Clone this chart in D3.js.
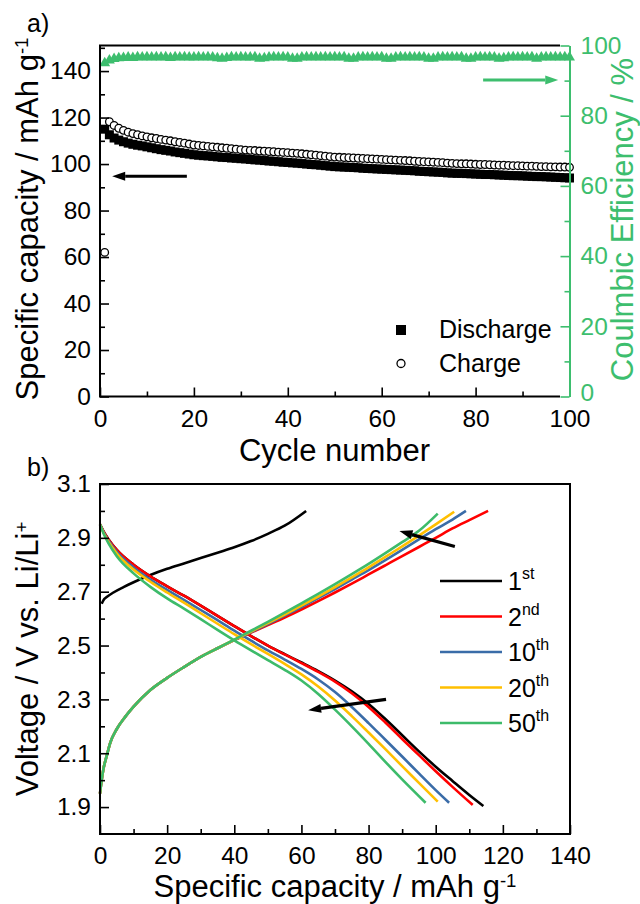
<!DOCTYPE html>
<html>
<head>
<meta charset="utf-8">
<script src="https://cdn.jsdelivr.net/npm/d3@7"></script>
<style>
  body { margin: 0; background: #fff; }
  svg { display: block; font-family: Arial, "Liberation Sans", sans-serif; }
</style>
</head>
<body>
<script>
// ---------- panel a data: cycling (cycle 1..100) ----------
const cycles = d3.range(1, 101);
const dischargeCap = [
  115.0, 112.6, 111.2, 110.3, 109.6, 109.0, 108.5, 108.1, 107.8, 107.4,
  107.0, 106.6, 106.2, 105.9, 105.6, 105.2, 104.9, 104.6, 104.3, 104.0,
  103.8, 103.6, 103.5, 103.3, 103.1, 102.9, 102.8, 102.6, 102.5, 102.3,
  102.2, 102.0, 101.8, 101.7, 101.5, 101.3, 101.2, 101.0, 100.8, 100.7,
  100.5, 100.4, 100.2, 100.0, 99.8, 99.7, 99.5, 99.3, 99.1, 98.9,
  98.8, 98.7, 98.6, 98.5, 98.4, 98.2, 98.1, 98.0, 97.9, 97.8,
  97.7, 97.6, 97.5, 97.4, 97.3, 97.2, 97.1, 96.9, 96.8, 96.7,
  96.6, 96.5, 96.4, 96.2, 96.1, 96.0, 96.0, 95.9, 95.8, 95.7,
  95.6, 95.5, 95.5, 95.4, 95.3, 95.2, 95.1, 95.0, 95.0, 94.9,
  94.8, 94.7, 94.6, 94.6, 94.5, 94.4, 94.3, 94.2, 94.1, 94.0
];
const chargeCap = [
  62.0, 118.2, 116.6, 115.4, 114.5, 113.7, 113.1, 112.6, 112.1, 111.7,
  111.3, 111.0, 110.6, 110.3, 110.0, 109.6, 109.3, 109.0, 108.6, 108.2,
  108.0, 107.8, 107.6, 107.4, 107.2, 107.0, 106.8, 106.6, 106.4, 106.2,
  106.0, 105.9, 105.8, 105.6, 105.5, 105.4, 105.3, 105.1, 105.0, 104.9,
  104.7, 104.6, 104.4, 104.2, 104.0, 103.8, 103.6, 103.4, 103.2, 103.0,
  102.9, 102.8, 102.7, 102.6, 102.5, 102.4, 102.3, 102.2, 102.1, 102.0,
  101.9, 101.8, 101.7, 101.6, 101.5, 101.4, 101.2, 101.1, 101.0, 100.9,
  100.8, 100.7, 100.6, 100.4, 100.3, 100.2, 100.1, 100.1, 100.0, 99.9,
  99.8, 99.8, 99.7, 99.6, 99.5, 99.5, 99.4, 99.3, 99.3, 99.2,
  99.1, 99.1, 99.0, 98.9, 98.9, 98.8, 98.8, 98.7, 98.7, 98.6
];
const coulombicEff = [
  95.0, 95.8, 96.2, 96.4, 96.5, 96.6, 96.5, 96.7, 96.6, 96.7,
  96.6, 96.7, 96.6, 96.7, 96.5, 96.7, 96.6, 96.7, 96.6, 96.6,
  96.7, 96.6, 96.7, 96.6, 96.4, 96.3, 96.5, 96.7, 96.6, 96.7,
  96.6, 96.6, 96.7, 96.3, 96.4, 96.6, 96.7, 96.6, 96.7, 96.6,
  96.3, 96.3, 96.6, 96.7, 96.6, 96.7, 96.6, 96.7, 96.6, 96.7,
  96.6, 96.7, 96.3, 96.3, 96.6, 96.7, 96.6, 96.7, 96.6, 96.7,
  96.3, 96.3, 96.6, 96.7, 96.6, 96.7, 96.6, 96.7, 96.6, 96.3,
  96.3, 96.6, 96.7, 96.6, 96.7, 96.6, 96.7, 96.3, 96.3, 96.6,
  96.7, 96.6, 96.7, 96.6, 96.3, 96.4, 96.6, 96.7, 96.6, 96.7,
  96.6, 96.7, 96.3, 96.6, 96.7, 96.6, 96.7, 96.6, 96.7, 96.6
];
const cycleTicks = [0, 20, 40, 60, 80, 100];
const capTicksA = [0, 20, 40, 60, 80, 100, 120, 140];
const ceTicks = [0, 20, 40, 60, 80, 100];

// ---------- panel b data: voltage profiles [capacity, voltage] ----------
const curveLabels = ["1", "2", "10", "20", "50"];
const curveSuffix = ["st", "nd", "th", "th", "th"];
const curveColors = ["#000000", "#ff0000", "#3a6ca8", "#ffbf00", "#3dbb6a"];

const dis1 = [[0,2.95],[1,2.925],[2.5,2.895],[5,2.855],[10,2.8],[15,2.757],[20,2.72],[25,2.685],[30,2.648],[35,2.61],[40,2.572],[45,2.535],[50,2.5],[55,2.468],[60,2.437],[65,2.405],[70,2.37],[75,2.33],[80,2.283],[85,2.227],[90,2.167],[95,2.107],[100,2.05],[105,1.997],[110,1.945],[114.2,1.904]];
const dis2 = [[0,2.95],[1,2.925],[2.5,2.895],[5,2.855],[10,2.8],[15,2.757],[20,2.72],[25,2.685],[30,2.648],[35,2.61],[40,2.572],[45,2.535],[50,2.5],[55,2.467],[60,2.435],[65,2.402],[70,2.366],[75,2.323],[80,2.272],[85,2.214],[90,2.153],[95,2.093],[100,2.033],[105,1.975],[111,1.908]];
const dis10 = [[0,2.95],[1,2.922],[2.5,2.89],[5,2.848],[10,2.79],[15,2.745],[20,2.707],[25,2.67],[30,2.632],[35,2.594],[40,2.555],[45,2.518],[50,2.482],[55,2.448],[60,2.413],[65,2.374],[70,2.327],[75,2.272],[80,2.212],[85,2.15],[90,2.088],[95,2.025],[100,1.963],[104,1.916]];
const dis20 = [[0,2.95],[1,2.92],[2.5,2.886],[5,2.842],[10,2.782],[15,2.737],[20,2.697],[25,2.659],[30,2.62],[35,2.581],[40,2.542],[45,2.505],[50,2.469],[55,2.432],[60,2.393],[65,2.348],[70,2.296],[75,2.238],[80,2.177],[85,2.115],[90,2.052],[95,1.99],[100.6,1.92]];
const dis50 = [[0,2.95],[1,2.918],[2.5,2.88],[5,2.832],[10,2.768],[15,2.718],[20,2.675],[25,2.637],[30,2.598],[35,2.558],[40,2.519],[45,2.482],[50,2.446],[55,2.41],[60,2.37],[65,2.32],[70,2.262],[75,2.2],[80,2.135],[85,2.068],[90,2.003],[97,1.916]];

const chg1 = [[0.5,2.655],[1,2.668],[2,2.68],[4,2.697],[7,2.717],[10,2.735],[15,2.762],[20,2.785],[25,2.805],[30,2.825],[35,2.845],[40,2.865],[45,2.888],[50,2.915],[55,2.945],[61.4,3.0]];
const chg2 = [[0,1.95],[0.5,2.0],[1,2.04],[2,2.09],[3,2.137],[5,2.19],[7.5,2.235],[10,2.273],[15,2.335],[20,2.38],[25,2.42],[30,2.458],[35,2.49],[40,2.52],[45,2.548],[50,2.576],[55,2.604],[60,2.634],[65,2.665],[70,2.697],[75,2.73],[80,2.764],[85,2.798],[90,2.832],[95,2.866],[100,2.9],[105,2.935],[110,2.966],[115.6,3.0]];
const chg10 = [[0,1.95],[0.5,2.0],[1,2.04],[2,2.09],[3,2.137],[5,2.19],[7.5,2.235],[10,2.273],[15,2.335],[20,2.38],[25,2.42],[30,2.458],[35,2.49],[40,2.52],[45,2.55],[50,2.58],[55,2.611],[60,2.643],[65,2.676],[70,2.71],[75,2.745],[80,2.78],[85,2.817],[90,2.855],[95,2.894],[100,2.932],[105,2.968],[109,3.0]];
const chg20 = [[0,1.95],[0.5,2.0],[1,2.04],[2,2.09],[3,2.137],[5,2.19],[7.5,2.235],[10,2.273],[15,2.335],[20,2.38],[25,2.42],[30,2.458],[35,2.49],[40,2.521],[45,2.552],[50,2.583],[55,2.615],[60,2.648],[65,2.682],[70,2.717],[75,2.753],[80,2.79],[85,2.829],[90,2.868],[95,2.908],[100,2.95],[105.5,2.997]];
const chg50 = [[0,1.95],[0.5,2.0],[1,2.04],[2,2.09],[3,2.137],[5,2.19],[7.5,2.235],[10,2.273],[15,2.335],[20,2.38],[25,2.42],[30,2.458],[35,2.49],[40,2.522],[45,2.555],[50,2.588],[55,2.622],[60,2.657],[65,2.692],[70,2.728],[75,2.765],[80,2.803],[85,2.843],[90,2.884],[95,2.926],[100.6,2.99]];

const dischargeCurves = [dis1, dis2, dis10, dis20, dis50];
const chargeCurves = [chg1, chg2, chg10, chg20, chg50];
const capTicksB = [0, 20, 40, 60, 80, 100, 120, 140];
const voltTicks = [1.9, 2.1, 2.3, 2.5, 2.7, 2.9, 3.1];

// --- SVG Setup ---
const width = 640, height = 904;
const green = "#3dbe6e";
const tickFont = 24.5, titleFont = 31;

const svg = d3.select("body").append("svg")
    .attr("width", width)
    .attr("height", height);

// little helper for styled axes
function styleAxis(g, color) {
    g.attr("font-size", tickFont).attr("font-family", null);
    g.selectAll(".tick line").attr("stroke", color).attr("stroke-width", 1.6);
    g.selectAll(".tick text").attr("fill", color);
}

function drawArrow(g, x1, y1, x2, y2, color, w) {
    const ang = Math.atan2(y2 - y1, x2 - x1);
    const len = 13, half = 4.5;
    const bx = x2 - len * Math.cos(ang), by = y2 - len * Math.sin(ang);
    g.append("line")
        .attr("x1", x1).attr("y1", y1).attr("x2", bx).attr("y2", by)
        .attr("stroke", color).attr("stroke-width", w);
    g.append("path")
        .attr("d", `M${x2},${y2}L${bx - half * Math.sin(ang)},${by + half * Math.cos(ang)}L${bx + half * Math.sin(ang)},${by - half * Math.cos(ang)}Z`)
        .attr("fill", color);
}

// ================= Panel a =================
const xA = d3.scaleLinear().domain([0, 100]).range([100, 569.5]);
const yA = d3.scaleLinear().domain([0, 151]).range([396.5, 45.5]);
const yCE = d3.scaleLinear().domain([0, 100]).range([396.5, 45.5]);

const gA = svg.append("g");

// Coulombic efficiency triangles
gA.selectAll(".ce")
    .data(cycles)
    .enter().append("path")
    .attr("class", "ce")
    .attr("transform", (c, i) => `translate(${xA(c)},${yCE(coulombicEff[i])})`)
    .attr("d", d3.symbol(d3.symbolTriangle, 52))
    .attr("fill", green);

// Discharge squares
gA.selectAll(".dis")
    .data(cycles)
    .enter().append("rect")
    .attr("class", "dis")
    .attr("x", c => xA(c) - 4.5)
    .attr("y", (c, i) => yA(dischargeCap[i]) - 4.5)
    .attr("width", 9).attr("height", 9)
    .attr("fill", "#000");

// Charge circles
gA.selectAll(".chg")
    .data(cycles)
    .enter().append("circle")
    .attr("class", "chg")
    .attr("cx", c => xA(c))
    .attr("cy", (c, i) => yA(chargeCap[i]))
    .attr("r", 3.8)
    .attr("fill", "#fff")
    .attr("stroke", "#000")
    .attr("stroke-width", 1.3);

// Axes
gA.append("g").attr("transform", "translate(100,0)")
    .call(d3.axisLeft(yA).tickValues(capTicksA).tickSize(-9).tickPadding(9))
    .call(g => g.select(".domain").remove())
    .call(g => styleAxis(g, "#000"));
gA.append("g").attr("transform", "translate(100,0)")
    .call(d3.axisLeft(yA).tickValues([10, 30, 50, 70, 90, 110, 130, 150]).tickSize(-5).tickFormat(""))
    .call(g => g.select(".domain").remove())
    .call(g => styleAxis(g, "#000"));

gA.append("g").attr("transform", "translate(0,396.5)")
    .call(d3.axisBottom(xA).tickValues(cycleTicks).tickSize(-9).tickPadding(13.5))
    .call(g => g.select(".domain").remove())
    .call(g => styleAxis(g, "#000"));
gA.append("g").attr("transform", "translate(0,396.5)")
    .call(d3.axisBottom(xA).tickValues([10, 30, 50, 70, 90]).tickSize(-5).tickFormat(""))
    .call(g => g.select(".domain").remove())
    .call(g => styleAxis(g, "#000"));

// frame (left, top, bottom)
gA.append("path")
    .attr("d", "M560,45.5H100V396.5H560")
    .attr("fill", "none").attr("stroke", "#000").attr("stroke-width", 2);

// right green axis
gA.append("g").attr("transform", "translate(569.5,0)")
    .call(d3.axisRight(yCE).tickValues(ceTicks).tickSize(-9).tickSizeOuter(0).tickPadding(11))
    .call(g => g.select(".domain").attr("stroke", green).attr("stroke-width", 2))
    .call(g => styleAxis(g, green))
    .call(g => g.selectAll(".tick text").filter(d => d === 0).attr("dy", "0.15em"));
gA.append("g").attr("transform", "translate(569.5,0)")
    .call(d3.axisRight(yCE).tickValues([10, 30, 50, 70, 90]).tickSize(-5).tickFormat(""))
    .call(g => g.select(".domain").remove())
    .call(g => styleAxis(g, green));

// Axis titles
gA.append("text")
    .attr("x", 334.5).attr("y", 461)
    .attr("text-anchor", "middle")
    .attr("font-size", titleFont)
    .text("Cycle number");

const tA = gA.append("text")
    .attr("transform", "translate(38,219) rotate(-90)")
    .attr("text-anchor", "middle")
    .attr("font-size", titleFont);
tA.append("tspan").text("Specific capacity / mAh g");
tA.append("tspan").attr("dy", "-0.55em").attr("font-size", "0.6em").text("-1");

gA.append("text")
    .attr("transform", "translate(633,219.5) rotate(-90)")
    .attr("text-anchor", "middle")
    .attr("font-size", titleFont)
    .attr("fill", green)
    .text("Coulmbic Efficiency / %");

gA.append("text").attr("x", 27).attr("y", 32).attr("font-size", 25).text("a)");

// legend
gA.append("rect").attr("x", 396).attr("y", 325).attr("width", 10).attr("height", 10).attr("fill", "#000");
gA.append("text").attr("x", 439).attr("y", 338).attr("font-size", 25).text("Discharge");
gA.append("circle").attr("cx", 401).attr("cy", 363.5).attr("r", 4)
    .attr("fill", "#fff").attr("stroke", "#000").attr("stroke-width", 1.3);
gA.append("text").attr("x", 439).attr("y", 372).attr("font-size", 25).text("Charge");

// arrows
drawArrow(gA, xA(18.5), yA(94.8), xA(2.6), yA(94.8), "#000", 3);
drawArrow(gA, xA(81.6), yCE(90.2), xA(97.6), yCE(90.2), green, 3);

// ================= Panel b =================
const xB = d3.scaleLinear().domain([0, 140]).range([100, 570]);
const yB = d3.scaleLinear().domain([1.8, 3.1]).range([834, 484]);
const gB = svg.append("g");

const line = d3.line()
    .x(d => xB(d[0]))
    .y(d => yB(d[1]))
    .curve(d3.curveMonotoneX);

curveLabels.forEach((lab, i) => {
    gB.append("path").datum(dischargeCurves[i])
        .attr("d", line).attr("fill", "none")
        .attr("stroke", curveColors[i]).attr("stroke-width", 2.6);
    gB.append("path").datum(chargeCurves[i])
        .attr("d", line).attr("fill", "none")
        .attr("stroke", curveColors[i]).attr("stroke-width", 2.6);
});

gB.append("g").attr("transform", "translate(100,0)")
    .call(d3.axisLeft(yB).tickValues(voltTicks).tickFormat(d3.format(".1f")).tickSize(-9).tickPadding(9))
    .call(g => g.select(".domain").remove())
    .call(g => styleAxis(g, "#000"));
gB.append("g").attr("transform", "translate(100,0)")
    .call(d3.axisLeft(yB).tickValues([2.0, 2.2, 2.4, 2.6, 2.8, 3.0]).tickSize(-5).tickFormat(""))
    .call(g => g.select(".domain").remove())
    .call(g => styleAxis(g, "#000"));
gB.append("g").attr("transform", "translate(0,834)")
    .call(d3.axisBottom(xB).tickValues(capTicksB).tickSize(-9).tickPadding(13))
    .call(g => g.select(".domain").remove())
    .call(g => styleAxis(g, "#000"));
gB.append("g").attr("transform", "translate(0,834)")
    .call(d3.axisBottom(xB).tickValues([10, 30, 50, 70, 90, 110, 130]).tickSize(-5).tickFormat(""))
    .call(g => g.select(".domain").remove())
    .call(g => styleAxis(g, "#000"));

gB.append("rect")
    .attr("x", 100).attr("y", 484).attr("width", 470).attr("height", 350)
    .attr("fill", "none").attr("stroke", "#000").attr("stroke-width", 2);

const tBx = gB.append("text")
    .attr("x", 335).attr("y", 897)
    .attr("text-anchor", "middle")
    .attr("font-size", titleFont);
tBx.append("tspan").text("Specific capacity / mAh g");
tBx.append("tspan").attr("dy", "-0.55em").attr("font-size", "0.6em").text("-1");

const tBy = gB.append("text")
    .attr("transform", "translate(38,659) rotate(-90)")
    .attr("text-anchor", "middle")
    .attr("font-size", titleFont);
tBy.append("tspan").text("Voltage / V vs. Li/Li");
tBy.append("tspan").attr("dy", "-0.55em").attr("font-size", "0.6em").text("+");

gB.append("text").attr("x", 27).attr("y", 476).attr("font-size", 25).text("b)");

// legend
const legB = gB.selectAll(".leg")
    .data(curveLabels)
    .enter().append("g")
    .attr("class", "leg")
    .attr("transform", (d, i) => `translate(440,${581 + i * 35.5})`);
legB.append("line")
    .attr("x1", 0).attr("x2", 62)
    .attr("stroke", (d, i) => curveColors[i]).attr("stroke-width", 2.6);
const legText = legB.append("text")
    .attr("x", 68).attr("y", 9)
    .attr("font-size", 25);
legText.append("tspan").text(d => d);
legText.append("tspan").attr("dy", -11).attr("font-size", 16).text((d, i) => curveSuffix[i]);

// arrows
drawArrow(gB, xB(105.7), yB(2.868), xB(89.2), yB(2.925), "#000", 3.2);
drawArrow(gB, xB(85.2), yB(2.3), xB(62), yB(2.26), "#000", 3.2);
</script>
</body>
</html>
